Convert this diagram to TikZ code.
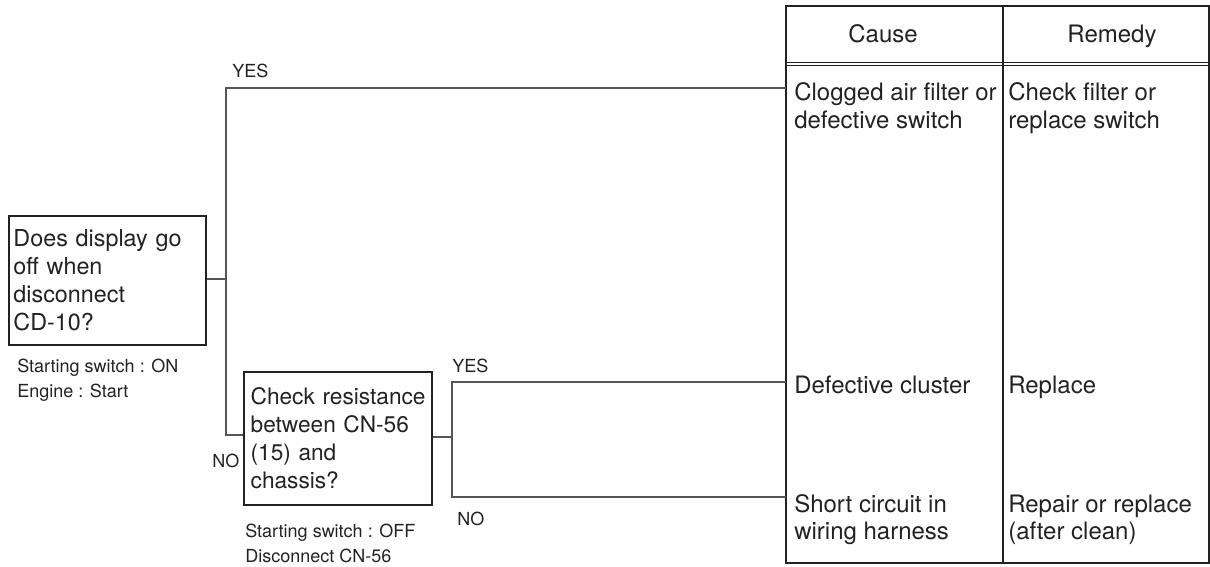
\documentclass[tikz,border=0pt]{standalone}
\usepackage{fontspec}
\setmainfont{TeX Gyre Heros}
\hyphenpenalty=10000
\exhyphenpenalty=10000
\hfuzz=50pt
\definecolor{ink}{HTML}{222222}
\definecolor{wire}{HTML}{555555}
\begin{document}
\begin{tikzpicture}[x=0.75pt,y=-0.75pt,
  big/.style={font=\fontsize{18}{21}\selectfont, text=ink},
  boxfont/.style={font=\fontsize{17.5}{21}\selectfont, text=ink},
  boxfontb/.style={font=\fontsize{17}{21}\selectfont, text=ink},
  small/.style={font=\fontsize{13.5}{18.75}\selectfont, text=ink},
  qbox/.style={draw=ink, line width=0.9pt, rectangle, align=left, inner xsep=2pt, inner ysep=0pt},
  cell/.style={big, anchor=base west, inner sep=0pt},
  head/.style={big, anchor=base, inner sep=0pt},
  note/.style={small, anchor=base west, inner sep=0pt},
  wirel/.style={draw=wire, line width=0.8pt},
  frame/.style={draw=ink, line width=0.9pt}]
\useasboundingbox (0,0) rectangle (1210,567);

% question boxes
\node[qbox, boxfont, minimum width=147.75pt, minimum height=96.75pt, text width=141pt] (b1) at (107.5,280.5)
  {Does display go\\off when\\disconnect\\CD-10?};
\node[qbox, boxfontb, minimum width=141pt, minimum height=99.75pt, text width=131pt] (b2) at (338,438.5)
  {\mbox{Check resistance}\\\mbox{between CN-56}\\(15) and\\chassis?};

% notes under boxes
\node[note] (n1a) at (17,372) {Starting switch : ON};
\node[note] (n1b) at (17,397) {Engine : Start};
\node[note] (n2a) at (245,537) {Starting switch : OFF};
\node[note] (n2b) at (245,562) {Disconnect CN-56};

% branch labels
\node[note] (yes1) at (232,78) {YES};
\node[note] (no1) at (212,467) {NO};
\node[note] (yes2) at (452,372) {YES};
\node[note] (no2) at (457,525) {NO};

% table
\draw[frame] (786,6) rectangle (1209,563);
\draw[frame] (1003,6) -- (1003,563);
\draw[frame, line width=0.7pt] (786,62) -- (1209,62);
\draw[frame, line width=0.7pt] (786,65) -- (1209,65);

\node[head] (hc) at (883,43) {Cause};
\node[head] (hr) at (1112,43) {Remedy};

\node[cell] (c1a) at (794,100) {Clogged air filter or};
\node[cell] (c1b) at (794,128) {defective switch};
\node[cell] (r1a) at (1008,100) {Check filter or};
\node[cell] (r1b) at (1008,128) {replace switch};
\node[cell] (c2) at (794,393) {Defective cluster};
\node[cell] (r2) at (1008,393) {Replace};
\node[cell] (c3a) at (794,512) {Short circuit in};
\node[cell] (c3b) at (794,539) {wiring harness};
\node[cell] (r3a) at (1008,512) {Repair or replace};
\node[cell] (r3b) at (1008,539) {(after clean)};

% connector end points on the table edge
\coordinate (t1) at (786,88);
\coordinate (t2) at (786,382);
\coordinate (t3) at (786,497);
\coordinate (ja) at (226,88);
\coordinate (jm) at (226,279);
\coordinate (jb) at (226,435);
\coordinate (ka) at (452,382);
\coordinate (km) at (452,437);
\coordinate (kb) at (452,497);

% connectors
\draw[wirel] (b1.east |- jm) -- (jm);
\draw[wirel] (t1) -- (ja) -- (jb) -- (b2.west |- jb);
\draw[wirel] (b2.east |- km) -- (km);
\draw[wirel] (t2) -- (ka) -- (kb) -- (t3);
\end{tikzpicture}
\end{document}
